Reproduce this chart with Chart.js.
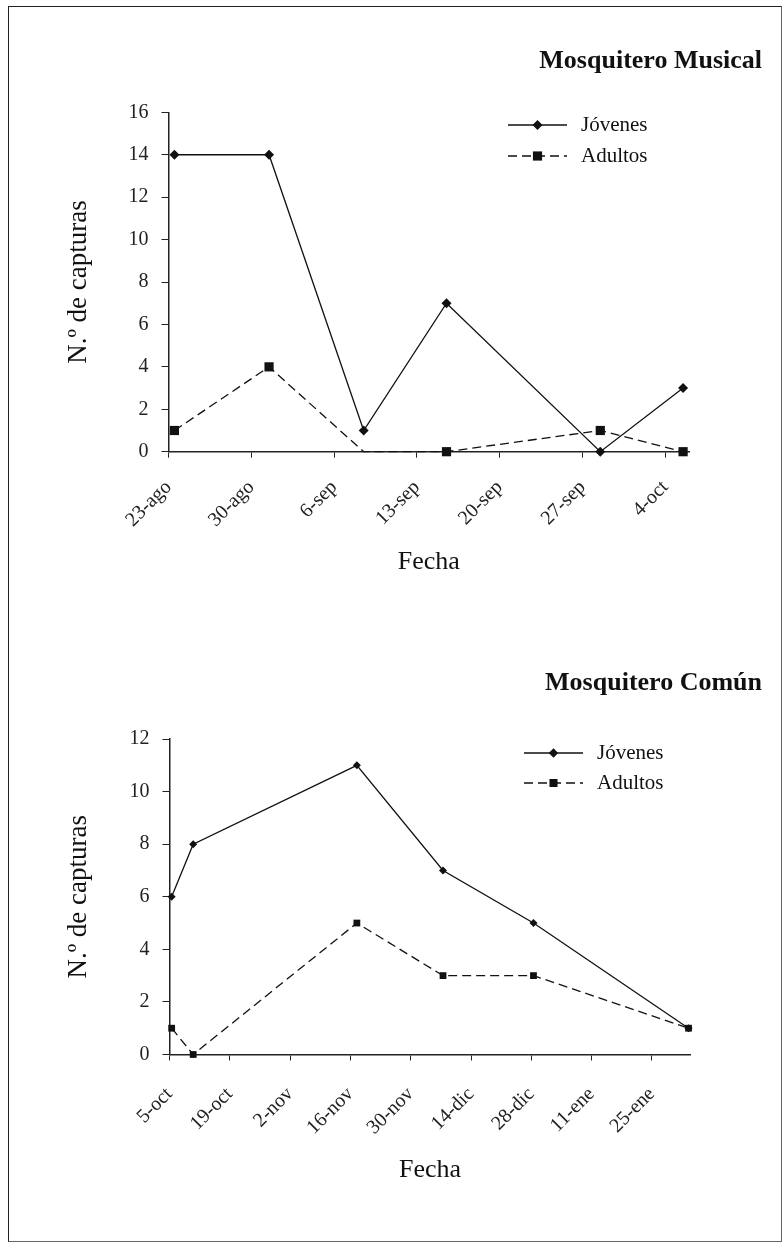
<!DOCTYPE html>
<html><head><meta charset="utf-8">
<script src="https://cdn.jsdelivr.net/npm/chart.js@4.4.1/dist/chart.umd.min.js"></script>
<style>
html,body{margin:0;padding:0;background:#fff;}
#page{position:relative;width:783px;height:1243px;overflow:hidden;background:#fff;}
#frame{position:absolute;left:8px;top:6px;width:774px;height:1236px;box-sizing:border-box;border:1px solid #666;border-top-color:#222;border-left-color:#222;}
canvas{position:absolute;left:0;}
</style></head><body>
<div id="page"><div id="frame"></div>
<canvas id="c1" width="783" height="600" style="top:0px"></canvas>
<canvas id="c2" width="783" height="643" style="top:600px"></canvas>
</div>
<script>
// ---- data ----
const musicalTitle = 'Mosquitero Musical';
const musicalDates = ['23-ago','31-ago','8-sep','15-sep','28-sep','5-oct'];
const musicalJovenes = [14,14,1,7,0,3];
const musicalAdultos = [1,4,0,0,1,0];
const musicalTicks = ['23-ago','30-ago','6-sep','13-sep','20-sep','27-sep','4-oct'];
const musicalRange = ['23-ago','6-oct'];
const musicalYMax = 16;

const comunTitle = 'Mosquitero Común';
const comunDates = ['5-oct','10-oct','17-nov','7-dic','28-dic','2-feb'];
const comunJovenes = [6,8,11,7,5,1];
const comunAdultos = [1,0,5,3,3,1];
const comunTicks = ['5-oct','19-oct','2-nov','16-nov','30-nov','14-dic','28-dic','11-ene','25-ene'];
const comunRange = ['5-oct','3-feb'];
const comunYMax = 12;

const seriesNames = ['Jóvenes','Adultos'];
const yTitle = 'N.º de capturas';
const xTitle = 'Fecha';

// ---- helpers ----
const MONTHS = {ago:7, sep:8, oct:9, nov:10, dic:11, ene:0, feb:1};
function dayNum(s){
  const parts = s.split('-');
  const mi = MONTHS[parts[1]];
  const y = mi < 7 ? 2002 : 2001;
  return Date.UTC(y, mi, +parts[0]) / 86400000;
}
const FONT = '"Liberation Serif", "Times New Roman", serif';
const INK = '#111';

function drawMarker(ctx, style, x, y, r, color){
  ctx.fillStyle = color;
  ctx.beginPath();
  if (style === 'rectRot'){
    ctx.moveTo(x - r, y); ctx.lineTo(x, y - r); ctx.lineTo(x + r, y); ctx.lineTo(x, y + r);
  } else {
    const s = Math.SQRT1_2 * r;
    ctx.rect(x - s, y - s, 2 * s, 2 * s);
  }
  ctx.closePath();
  ctx.fill();
}

const seriesKey = {
  id: 'seriesKey',
  afterDatasetsDraw(chart, args, o){
    const ctx = chart.ctx;
    ctx.save();
    chart.data.datasets.forEach((ds, i) => {
      const y = o.y + i * o.gap;
      ctx.strokeStyle = ds.borderColor;
      ctx.lineWidth = ds.borderWidth;
      ctx.setLineDash(ds.borderDash || []);
      ctx.beginPath(); ctx.moveTo(o.x, y); ctx.lineTo(o.x + o.len, y); ctx.stroke();
      ctx.setLineDash([]);
      drawMarker(ctx, ds.pointStyle, o.x + o.len / 2, y, o.r[i], ds.backgroundColor);
      ctx.fillStyle = INK;
      ctx.font = o.size + 'px ' + FONT;
      ctx.textBaseline = 'middle';
      ctx.textAlign = 'left';
      ctx.fillText(ds.label, o.x + o.len + o.textGap, y);
    });
    ctx.restore();
  }
};

function makeChart(id, c){
  const x0 = dayNum(c.range[0]), x1 = dayNum(c.range[1]);
  const tickVals = c.ticks.map(dayNum);
  return new Chart(document.getElementById(id), {
    type: 'line',
    data: { datasets: [
      { label: seriesNames[0],
        data: c.dates.map((d, i) => ({x: dayNum(d) + 0.5, y: c.jov[i]})),
        borderColor: INK, backgroundColor: INK, borderWidth: 1.3,
        pointStyle: 'rectRot', pointRadius: c.rj, pointBorderWidth: 0, pointHoverRadius: c.rj,
        tension: 0, clip: false },
      { label: seriesNames[1],
        data: c.dates.map((d, i) => ({x: dayNum(d) + 0.5, y: c.adu[i]})),
        borderColor: INK, backgroundColor: INK, borderWidth: 1.3, borderDash: [9, 5],
        pointStyle: 'rect', pointRadius: c.ra, pointBorderWidth: 0, pointHoverRadius: c.ra,
        tension: 0, clip: false }
    ]},
    plugins: [seriesKey],
    options: {
      responsive: false, animation: false, devicePixelRatio: 1,
      layout: { padding: { left: 62.8, right: 21, top: 0, bottom: c.bp } },
      plugins: {
        legend: { display: false },
        tooltip: { enabled: false },
        title: { display: true, text: c.title, align: 'end', color: INK,
                 font: { family: FONT, size: 26, weight: 'bold', lineHeight: 1.2 },
                 padding: { top: c.tt, bottom: c.tb } },
        seriesKey: c.key
      },
      scales: {
        x: { type: 'linear', min: x0, max: x1,
             afterBuildTicks: s => { s.ticks = tickVals.map(v => ({value: v})); },
             afterFit: s => { s.height = c.xh; },
             ticks: { autoSkip: false, minRotation: 45, maxRotation: 45, padding: c.xpad,
                      color: '#222', font: { family: FONT, size: 20 },
                      callback: (v, i) => c.ticks[i] },
             grid: { drawOnChartArea: false, drawTicks: true, tickLength: 6, color: '#222', lineWidth: 1 },
             border: { display: true, color: '#222', width: 1.5 },
             title: { display: true, text: xTitle, color: INK,
                      font: { family: FONT, size: 26, lineHeight: 1.2 }, padding: { top: 0, bottom: 0 } } },
        y: { type: 'linear', min: 0, max: c.ymax,
             afterFit: s => { s.width = c.yw; },
             ticks: { stepSize: 2, padding: 13, color: '#222', font: { family: FONT, size: 20 } },
             grid: { drawOnChartArea: false, drawTicks: true, tickLength: 7, color: '#222', lineWidth: 1 },
             border: { display: true, color: '#222', width: 1.5 },
             title: { display: true, text: yTitle, color: INK,
                      font: { family: FONT, size: 27, lineHeight: 1.2 }, padding: { top: 0, bottom: 0 } } },
        yR: { type: 'linear', axis: 'y', position: 'right', display: true,
              afterFit: s => { s.width = c.rw; },
              grid: { display: false }, border: { display: false }, ticks: { display: false } }
      }
    }
  });
}

makeChart('c1', {
  title: musicalTitle, dates: musicalDates, jov: musicalJovenes, adu: musicalAdultos,
  ticks: musicalTicks, range: musicalRange, ymax: musicalYMax,
  rj: 5, ra: [6.5, 6.5, 0, 6.5, 6.5, 6.5],
  tt: 45.4, tb: 35.7, bp: 22.7, xh: 125.6, yw: 105.7, rw: 73, xpad: 18,
  key: { x: 508, y: 125, gap: 31, len: 59, textGap: 14, size: 21, r: [5, 6.5] }
});
makeChart('c2', {
  title: comunTitle, dates: comunDates, jov: comunJovenes, adu: comunAdultos,
  ticks: comunTicks, range: comunRange, ymax: comunYMax,
  rj: 4, ra: 4.8,
  tt: 67.4, tb: 40.4, bp: 57.4, xh: 131.1, yw: 106.7, rw: 71.3, xpad: 22,
  key: { x: 524, y: 153, gap: 30, len: 59, textGap: 14, size: 21, r: [4.7, 5.7] }
});
</script>
</body></html>
